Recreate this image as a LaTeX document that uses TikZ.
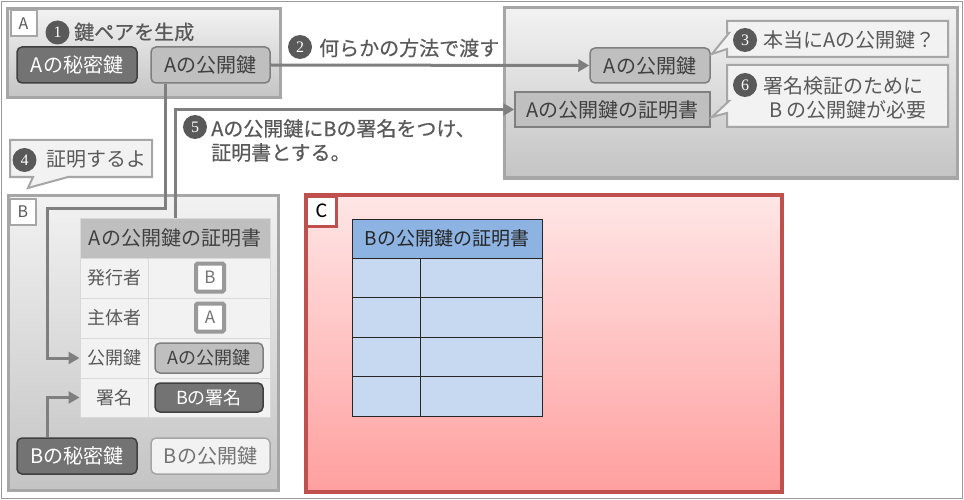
\documentclass[tikz,border=0pt]{standalone}
\usepackage{fontspec}
\setmainfont{Noto Sans CJK JP}
\newfontfamily\stepfont[FakeBold=0.5]{Noto Sans CJK JP}
\newfontfamily\numfont{Liberation Serif}
\newfontfamily\calfont{Carlito}
\usetikzlibrary{arrows.meta}
\definecolor{txt}{HTML}{595959}
\definecolor{txtd}{HTML}{404040}
\definecolor{boxb}{HTML}{A6A6A6}
\definecolor{boxt}{HTML}{F2F2F2}
\definecolor{boxbt}{HTML}{C4C4C4}
\definecolor{dkf}{HTML}{737373}
\definecolor{dkb}{HTML}{404040}
\definecolor{ltf}{HTML}{BFBFBF}
\definecolor{ltb}{HTML}{7F7F7F}
\definecolor{arrc}{HTML}{7F7F7F}
\definecolor{numc}{HTML}{595959}
\definecolor{cellf}{HTML}{F2F2F2}
\definecolor{celll}{HTML}{D9D9D9}
\definecolor{sqb}{HTML}{999999}
\definecolor{redb}{HTML}{C0504D}
\definecolor{redt}{HTML}{FFE6E6}
\definecolor{redbt}{HTML}{FF9F9F}
\definecolor{bhdr}{HTML}{8DB3E2}
\definecolor{bcell}{HTML}{C6D9F1}
\definecolor{bline}{HTML}{262626}
\newcommand\myfbig{\fontsize{20}{24}\selectfont}
\newcommand\myfmid{\fontsize{18}{20}\selectfont}
\tikzset{
  x=1pt, y=-1pt,
  box/.style={draw=boxb, line width=3pt, top color=boxt, bottom color=boxbt, inner sep=0pt},
  lbl/.style={draw=boxb, line width=2pt, fill=white, minimum size=26pt, inner sep=0pt, font=\fontsize{16}{16}\selectfont, text=txt},
  dnode/.style={draw=dkb, fill=dkf, rounded corners=5pt, line width=1.5pt, text=white, font=\myfbig, inner sep=0pt},
  lnode/.style={draw=ltb, fill=ltf, rounded corners=5pt, line width=1.5pt, text=txtd, font=\myfbig, inner sep=0pt},
  arr/.style={draw=arrc, line width=3pt, -{Triangle[length=11pt,width=12pt]}},
  num/.style={circle, fill=numc, text=white, minimum size=24pt, inner sep=0pt, font=\numfont\fontsize{16}{16}\selectfont},
  steptxt/.style={text=txt, font=\stepfont\myfbig, anchor=west, inner sep=0pt, align=left},
  callout/.style={draw=boxb, fill=cellf, line width=2pt, line join=miter},
  cell/.style={draw=celll, fill=cellf, line width=1pt, inner sep=0pt, text=txt, font=\myfmid},
  hcell/.style={draw=celll, fill=ltf, line width=1pt, inner sep=0pt, text=txtd, font=\myfbig},
  sq/.style={draw=sqb, fill=white, line width=4pt, rounded corners=1.5pt, inner sep=0pt, minimum width=28pt, minimum height=28pt, text=dkf, font=\fontsize{17}{17}\selectfont},
  ccell/.style={draw=bline, fill=bcell, line width=1pt, inner sep=0pt},
}
\begin{document}
\begin{tikzpicture}
\useasboundingbox (0,0) rectangle (964,500);
% outer frame
\draw[draw=arrc!80, line width=1pt] (1.5,1.5) rectangle (962.5,498);

% ---------- Box A ----------
\node[box, minimum width=273pt, minimum height=89pt] (boxA) at (143.5,53.5) {};
\node[lbl] (lblA) at (23.5,23.5) {A};
\node[num] (n1) at (57.5,32.5) {1};
\node[steptxt] (t1) at (74,32) {鍵ペアを生成};
\node[dnode, minimum width=120pt, minimum height=36pt] (asec) at (77,65) {Aの秘密鍵};
\node[lnode, minimum width=119pt, minimum height=36pt] (apubA) at (210.5,65) {Aの公開鍵};

% ---------- Right box ----------
\node[box, minimum width=453pt, minimum height=170pt] (boxR) at (730.5,93) {};
\node[lnode, minimum width=120pt, minimum height=35pt] (apubR) at (650,65.5) {Aの公開鍵};
\node[draw=ltb, fill=ltf, line width=1.5pt, inner sep=0pt, text=txtd, font=\myfbig,
      minimum width=195pt, minimum height=35pt] (certR) at (612.5,109.5) {Aの公開鍵の証明書};

% callout 3
\draw[callout] (727,21) -- (948,21) -- (948,57) -- (727,57) -- (727,49) -- (712,54) -- (729,33) -- (727,33) -- cycle;
\node[num] (n3) at (745,40) {3};
\node[steptxt, font=\myfbig] (t3) at (763,40) {本当にAの公開鍵？};
% callout 6
\draw[callout] (727,65) -- (948,65) -- (948,127) -- (727,127) -- (727,113) -- (712,117) -- (729,101) -- (727,101) -- cycle;
\node[num] (n6) at (745,85) {6};
\node[steptxt, font=\myfbig] (t6) at (763,97.5) {署名検証のために\\[0pt]\hspace{6pt}B の公開鍵が必要};

% step 2 label
\node[num] (n2) at (300,47) {2};
\node[steptxt] (t2) at (319,48) {何らかの方法で渡す};

% step 5 label
\node[num] (n5) at (195,127) {5};
\node[steptxt] (t5) at (211,140.5) {Aの公開鍵にBの署名をつけ、\\[0pt]証明書とする。};

% callout 4
\draw[callout] (10,140) -- (152,140) -- (152,177) -- (68,177) -- (28,188) -- (33,177) -- (10,177) -- cycle;
\node[num] (n4) at (24.5,160) {4};
\node[steptxt, font=\myfbig] (t4) at (46,159) {証明するよ};

% ---------- Box B ----------
\node[box, minimum width=270pt, minimum height=295pt] (boxB) at (143,342.5) {};
\node[lbl] (lblB) at (23,212) {B};

% table in B
\node[hcell, minimum width=190pt, minimum height=40pt] (hdrB) at (175,238) {Aの公開鍵の証明書};
\node[cell, minimum width=68pt, minimum height=40pt] (rIss) at (114,278) {発行者};
\node[cell, minimum width=122pt, minimum height=40pt] (vIss) at (209,278) {};
\node[cell, minimum width=68pt, minimum height=40pt] (rSub) at (114,318) {主体者};
\node[cell, minimum width=122pt, minimum height=40pt] (vSub) at (209,318) {};
\node[cell, minimum width=68pt, minimum height=40pt] (rPk) at (114,358) {公開鍵};
\node[cell, minimum width=122pt, minimum height=40pt] (vPk) at (209,358) {};
\node[cell, minimum width=68pt, minimum height=39pt] (rSig) at (114,397.5) {署名};
\node[cell, minimum width=122pt, minimum height=39pt] (vSig) at (209,397.5) {};
\node[sq] (sqB) at (210,277.5) {B};
\node[sq] (sqA) at (210,317.5) {A};
\node[lnode, font=\myfmid, minimum width=108pt, minimum height=30pt] (pkA) at (209,358) {Aの公開鍵};
\node[dnode, font=\myfmid, minimum width=108pt, minimum height=29pt] (sigB) at (209,397.5) {Bの署名};

\node[dnode, minimum width=120pt, minimum height=36pt] (bsec) at (77,456) {Bの秘密鍵};
\node[draw=boxb, fill=cellf, rounded corners=5pt, line width=1.5pt, text=dkf, font=\myfbig, inner sep=0pt,
      minimum width=119pt, minimum height=36pt] (bpub) at (210.5,456) {Bの公開鍵};

% ---------- Box C ----------
\node[draw=redb, line width=4pt, top color=redt, bottom color=redbt, inner sep=0pt,
      minimum width=476pt, minimum height=297pt] (boxC) at (544,343.5) {};
\node[draw=redb, line width=3pt, fill=white, inner sep=0pt, minimum width=30pt, minimum height=30pt,
      font=\calfont\fontsize{21}{21}\selectfont, text=black] (lblC) at (321.5,211) {C};
\node[draw=bline, fill=bhdr, line width=1pt, inner sep=0pt, minimum width=190pt, minimum height=39pt,
      font=\fontsize{19}{20}\selectfont, text=bline] (hdrC) at (447,238.5) {Bの公開鍵の証明書};
\node[ccell, minimum width=68pt, minimum height=39.5pt] (c11) at (386,277.75) {};
\node[ccell, minimum width=122pt, minimum height=39.5pt] (c12) at (481,277.75) {};
\node[ccell, minimum width=68pt, minimum height=39.5pt] (c21) at (386,317.25) {};
\node[ccell, minimum width=122pt, minimum height=39.5pt] (c22) at (481,317.25) {};
\node[ccell, minimum width=68pt, minimum height=39.5pt] (c31) at (386,356.75) {};
\node[ccell, minimum width=122pt, minimum height=39.5pt] (c32) at (481,356.75) {};
\node[ccell, minimum width=68pt, minimum height=39.5pt] (c41) at (386,396.25) {};
\node[ccell, minimum width=122pt, minimum height=39.5pt] (c42) at (481,396.25) {};

% ---------- Connectors ----------
\draw[arr] (apubA.east) -- (apubR.west);
\coordinate (bend1) at (47,208);
\draw[arr] ([xshift=-45.5pt]apubA.south) |- (bend1) |- (rPk.west);
\draw[arr] (hdrB.north) |- (certR.west);
\draw[arr] ([xshift=-30pt]bsec.north) |- (rSig.west);
\end{tikzpicture}
\end{document}
